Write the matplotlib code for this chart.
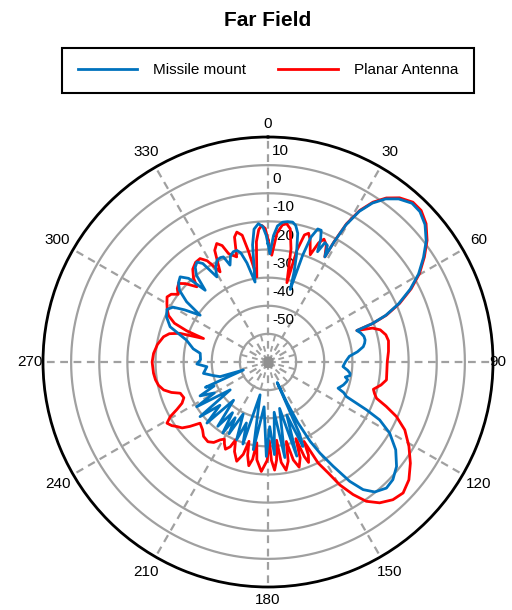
import numpy as np
import matplotlib.pyplot as plt

plt.rcParams['font.family'] = ['Liberation Sans', 'DejaVu Sans']

title = "Far Field"
series_names = ["Missile mount", "Planar Antenna"]

# angle in degrees (clockwise from top), gain in dB
missile_deg = [0, 1, 2.5, 4, 6, 8, 10, 11.5, 13, 15, 16.2, 17, 18, 19, 20.5, 22, 23.2,
               24.2, 25.5, 27, 28.4,
               28.8, 29.6, 31.2, 33.3, 35.8, 38.7, 42.2, 45.3, 48.8, 52.6, 56.1, 59.7,
               62.9, 66, 68.4, 69.8, 70.5,
               72.5, 75, 77.2, 79, 80.9, 83.5, 86, 90, 93.5, 96, 98, 99.5, 101, 102.5,
               104, 107, 110.5, 112, 113.8,
               115.9, 117.4, 120.3, 124.5, 129.1, 133.3, 136.8, 140.6, 143.3, 145.6,
               148, 150.3, 152, 153.8, 155, 155.8,
               156.3, 157.5, 160.5, 163, 166, 170, 173, 176, 178.5, 181, 185, 189.5,
               193.6, 197, 199.5, 202, 205.5, 208.5, 210.5, 212.5, 215, 218, 222, 225,
               228, 231.2, 233.6, 237.9, 240, 243.5, 246, 248, 252,
               253, 256, 260, 265.6, 268.4, 272, 277.3, 280, 285, 289.8, 294, 297.5,
               300, 302, 304.6, 306.5, 309, 311.5, 314.1, 316.5, 318.8, 320.5, 322.5,
               324.6, 326.5, 329, 331, 333.5, 335.5, 337, 338.6, 340.5, 342.5, 344.4,
               346, 348, 350.8, 352.5, 354, 356, 357.8, 359.2, 360]
missile_db = [-18, -21.5, -15, -11.5, -10, -9.6, -9.5, -10.5, -13, -21, -27, -33, -20, -13,
              -9.5, -9.5, -12.5, -17, -13, -13.5, -17.5,
              -11.5, -4, 2.6, 7.6, 11.5, 14.3, 16.2, 16.0, 14.2, 10.8, 6.6, 2.0,
              -3.2, -9.2, -15, -20.5, -26.5,
              -25.5, -24.7, -24.6, -25, -25.7, -28, -31, -32.5, -33.3, -31.5, -30.5, -30.5,
              -32, -31, -31.2, -32, -33.4, -31, -29.5,
              -21.1, -15.3, -9.9, -4.9, -1.1, 1.0, 1.5, -0.2, -3.4, -8.6,
              -16.3, -22.7, -28, -36, -44, -52,
              -32, -27.5, -40, -25, -43, -25.5, -42, -27, -37, -26.4, -44, -28.4,
              -48, -29.5, -37, -30.2, -39.5, -31, -37, -30.1, -38, -31, -41.7, -29.3,
              -37, -29, -43.3, -30.1, -38, -33, -39, -36, -50.8,
              -42.2, -40, -36.7, -38.2, -34.7, -36, -35.7, -33, -30, -23, -20.5, -19.5,
              -21, -25, -30.7, -24, -19.5, -17.5, -16.5, -19, -26.1, -20, -17.5,
              -16.4, -18, -24.7, -21.5, -19.5, -19.2, -19.4, -23, -20, -18.9, -18.8,
              -20, -24, -31.2, -18, -12.5, -10.7, -11.8, -15, -18]

planar_deg = [0, 2, 4, 6, 7.7, 9.5, 11.5, 13.4, 14.5, 16, 17.5, 19, 21.5, 23, 24.5, 26.5,
              28.4,
              28.8, 29.6, 31.2, 33.3, 35.8, 38.7, 42.2, 45.3, 48.8, 52.6, 56.1, 59.7,
              62.9, 66, 68.4, 69.8, 70.5,
              72, 74, 77, 80, 85, 90, 95, 98.6, 101.5, 104.5, 106.5, 108.5,
              110.6, 113, 116.4, 120.9, 125.4, 129.9, 134.1, 137.8, 141.6, 144.8,
              147.3, 149.7, 151.5, 153.6,
              155.6, 156.5, 158, 159, 160, 161.5, 163.5, 165.5, 167, 168.5, 170.5,
              172.5, 173.7, 175, 176.5, 178, 179, 180.5, 183.5, 186.5, 187.9, 189,
              190.5, 192.3, 193.5, 195, 197.5, 200.5, 202.6, 204, 206, 208, 209.5,
              211.6, 214, 217, 220.9, 224, 228, 230.5, 232.5, 234.7, 236.5, 238.8,
              240.8, 242.5, 244.4, 247, 250.4, 252.5, 255, 258, 261, 264.4, 270,
              274.3, 279, 283.6, 286, 288, 290, 291, 292.5, 295, 297.5, 300, 302.8,
              305, 307, 309, 311.3, 313.5, 316.6, 318.5, 321, 324, 326.7, 329, 332,
              334.5, 336.6, 338.5, 340, 343.4, 345, 346.5, 348.5, 350, 352.5, 354.5,
              356, 357.4, 358.8, 360]
planar_db = [-16.5, -22, -14, -11, -10.4, -12, -19, -31, -19, -13, -12, -14, -19, -14, -12,
             -13.5, -17.5,
             -11, -3.5, 3.0, 8.0, 11.9, 14.8, 16.7, 16.6, 14.7, 11.2, 7.0, 2.4,
             -2.8, -8.8, -14.7, -20.2, -26.5,
             -21, -18.5, -17, -16.5, -17, -17.6, -17.6, -17.4, -19, -21.3, -20.5, -19.3,
             -15.1, -10.4, -5.7, -1.6, 2.1, 5.3, 6.9, 6.1, 3.9, 0.6,
             -4, -9.4, -15.1, -19.9,
             -29, -24, -21.5, -24, -31, -24, -21, -24, -31, -24, -21,
             -24, -32, -25, -21.5, -25, -32, -25, -21, -25, -31, -25,
             -22.5, -26, -31, -26, -23, -26, -30, -27, -25.5, -27, -28.5,
             -27.5, -25.5, -24.5, -25, -26.5, -27.5, -24, -21.5, -20.3, -19, -18,
             -20.2, -23.5, -26.1, -27.5, -26.9, -24, -21.6, -20.2, -19.5, -19.1, -18.8,
             -19.2, -20.2, -21.8, -23.5, -27, -35.6, -29, -24, -21, -19.6, -18.5, -17.3,
             -18, -20, -18.5, -17.7, -19.5, -23.2, -20, -17.5, -16.2, -16, -18, -23.7,
             -16, -14.1, -15.5, -19, -21, -14, -12.5, -14, -20, -29.5, -17,
             -12.8, -11.4, -12.5, -16.5]

r_min, r_max = -60, 20
r_ticks = [-50, -40, -30, -20, -10, 0, 10]
theta_ticks = list(range(0, 360, 30))

blue = "#0072BD"
red = "#FF0000"
grid_gray = "#A0A0A0"

fig = plt.figure(figsize=(5.12, 6.10), dpi=100)
ax = fig.add_axes([43 / 512, 23 / 610, 450 / 512, 450 / 610], projection="polar")
ax.set_theta_zero_location("N")
ax.set_theta_direction(-1)
ax.set_rlim(r_min, r_max)
ax.grid(False)
ax.set_xticks([])
ax.set_yticks([])

# rings and spokes
full = np.linspace(0, 2 * np.pi, 361)
for r in r_ticks:
    ax.plot(full, np.full_like(full, r), color=grid_gray, lw=1.6, zorder=1)
for t in theta_ticks:
    ax.plot([np.deg2rad(t)] * 2, [r_min, r_max], color=grid_gray, lw=1.6,
            ls=(0, (3.5, 2.5)), zorder=1)
for t in range(15, 360, 30):
    ax.plot([np.deg2rad(t)] * 2, [r_min, r_ticks[0]], color=grid_gray, lw=1.4,
            ls=(0, (3, 2.5)), zorder=1)
ax.plot([0], [r_min], marker="s", ms=6, color="#909090", zorder=2)
ax.spines["polar"].set_color("black")
ax.spines["polar"].set_linewidth(2)

l1, = ax.plot(np.deg2rad(missile_deg), missile_db, color=blue, lw=2, zorder=4)
l2, = ax.plot(np.deg2rad(planar_deg), planar_db, color=red, lw=2, zorder=3)

# magnitude labels sit under the traces, like the reference
for r in r_ticks:
    ax.annotate(str(r), xy=(0, r), xytext=(4, 14), textcoords="offset pixels",
                ha="left", va="center", fontsize=11, zorder=2.5)
for t in theta_ticks:
    rr = 24.6 if t % 90 == 0 else 26.4
    ax.text(np.deg2rad(t), rr, str(t), ha="right" if t == 90 else "center",
            va="center", fontsize=11, clip_on=False)

fig.text(268 / 512, 1 - 20 / 610, title, ha="center", va="center",
         fontsize=15, fontweight="bold")
fig.legend([l1, l2], series_names, loc="center", ncol=2,
           bbox_to_anchor=(268 / 512, 1 - 70.5 / 610),
           frameon=True, fancybox=False, edgecolor="black", framealpha=1,
           fontsize=11, handlelength=3.9, handletextpad=1.05, columnspacing=2.1,
           borderpad=1.0)
fig.legends[0].get_frame().set_linewidth(1.5)

fig.savefig("out.png", dpi=100)
